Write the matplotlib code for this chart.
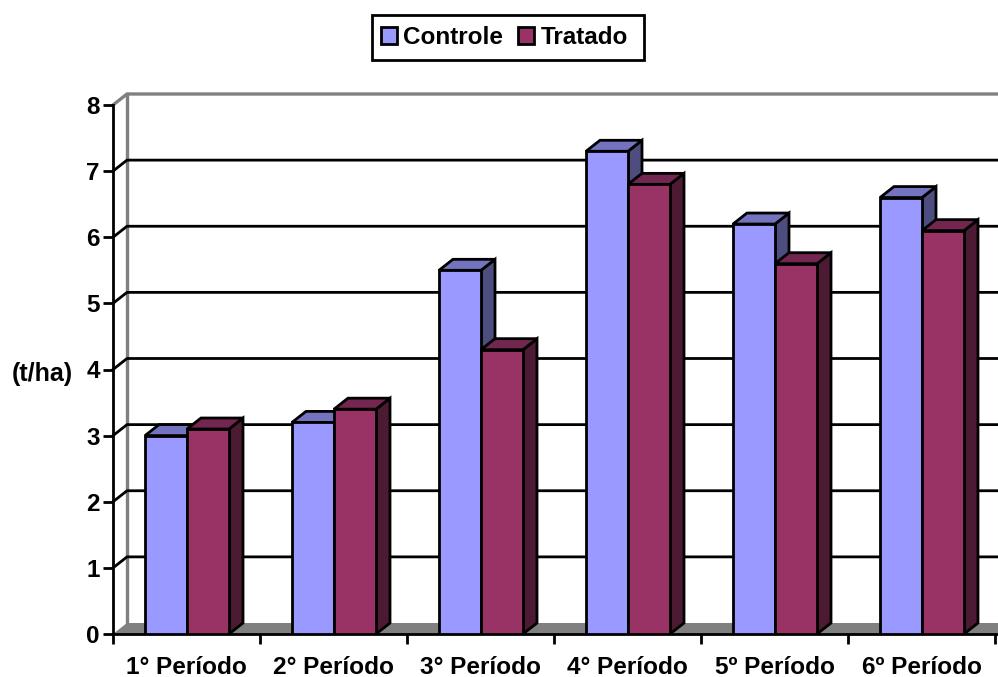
import numpy as np
import matplotlib
matplotlib.use('Agg')
from matplotlib import pyplot as plt
from matplotlib.patches import Polygon, Patch, Rectangle

plt.rcParams['font.family'] = ['Liberation Sans', 'DejaVu Sans']
plt.rcParams['font.weight'] = 'bold'

periodos = ['1° Período', '2° Período', '3° Período', '4° Período', '5º Período', '6º Período']
controle = [3.0, 3.2, 5.5, 7.3, 6.2, 6.6]
tratado = [3.1, 3.4, 4.3, 6.8, 5.6, 6.1]
yticks = [0, 1, 2, 3, 4, 5, 6, 7, 8]

W, H = 998, 677
x0, x1, y0, y8 = 113, 998, 634, 105
cat_px = 147.0
unit_px = (y0 - y8) / 8.0
LW = 2.0

# depth of the fake 3d box, in data units
dx = 14 / cat_px
dy = 11 / unit_px
bar_w = 42 / cat_px
gap = 32 / cat_px

fig = plt.figure(figsize=(W / 100, H / 100), dpi=100)
ax = fig.add_axes([x0 / W, 1 - y0 / H, (x1 - x0) / W, (y0 - y8) / H])
ax.set_xlim(0, (x1 - x0) / cat_px)
ax.set_ylim(0, 8)

for s in ['top', 'right']:
    ax.spines[s].set_visible(False)
for s in ['left', 'bottom']:
    ax.spines[s].set_linewidth(LW)
    ax.spines[s].set_zorder(3)
xmax = ax.get_xlim()[1]

# floor and back wall
ax.add_patch(Polygon([(0, 0), (dx, dy), (xmax, dy), (xmax, 0)], fc='#808080', ec='none', zorder=1))
ax.plot([dx, dx], [dy, 8 + dy], color='#808080', lw=2.4, zorder=1, clip_on=False)
ax.plot([0, dx, xmax], [8, 8 + dy, 8 + dy], color='#808080', lw=2.4, zorder=1, clip_on=False)
for v in yticks[1:-1]:
    ax.plot([0, dx, xmax], [v, v + dy, v + dy], color='black', lw=LW, zorder=2, clip_on=False)


def draw_bar(x, v, front, top, side, z):
    ax.add_patch(Polygon([(x + bar_w, 0), (x + bar_w + dx, dy), (x + bar_w + dx, v + dy), (x + bar_w, v)],
                         fc=side, ec='black', lw=LW, zorder=z, joinstyle='miter'))
    ax.add_patch(Polygon([(x, v), (x + dx, v + dy), (x + bar_w + dx, v + dy), (x + bar_w, v)],
                         fc=top, ec='black', lw=LW, zorder=z, joinstyle='miter', clip_on=False))
    ax.bar(x, v, bar_w, align='edge', color=front, edgecolor='black', linewidth=LW, zorder=z)


for i in range(len(periodos)):
    draw_bar(i + gap, controle[i], '#9999FF', '#7373BF', '#4D4D80', 4 + i * 2)
    draw_bar(i + gap + bar_w, tratado[i], '#993366', '#732650', '#4D1A33', 5 + i * 2)

ax.set_yticks(yticks)
ax.set_xticks(np.arange(7))
ax.set_xticklabels([])
ax.set_xticks(np.arange(6) + 0.5, periodos, minor=True)
ax.tick_params(axis='x', which='major', length=7.5, width=LW)
ax.tick_params(axis='x', which='minor', length=0, labelsize=17.6, pad=15.5)
ax.tick_params(axis='y', length=7.5, width=LW, labelsize=17.5, pad=2)

ax.text(-40 / cat_px, 4 - 4 / unit_px, '(t/ha)', fontsize=18, ha='right', va='center', clip_on=False)

# legend box drawn apart, its padding is not symmetric
fig.add_artist(Rectangle((371.5 / W, 1 - 59.5 / H), 272.5 / W, 44.5 / H, transform=fig.transFigure,
                         fc='white', ec='black', lw=LW))
handles = [Patch(fc='#9999FF', ec='black', lw=LW, label='Controle'),
           Patch(fc='#993366', ec='black', lw=LW, label='Tratado')]
fig.legend(handles=handles, loc='center left', bbox_to_anchor=(381 / W, 1 - 37.5 / H), ncol=2,
           fontsize=17.5, frameon=False, handlelength=0.66, handleheight=0.66,
           handletextpad=0.25, columnspacing=0.62, borderpad=0, borderaxespad=0)

fig.savefig('out.png', dpi=100)
